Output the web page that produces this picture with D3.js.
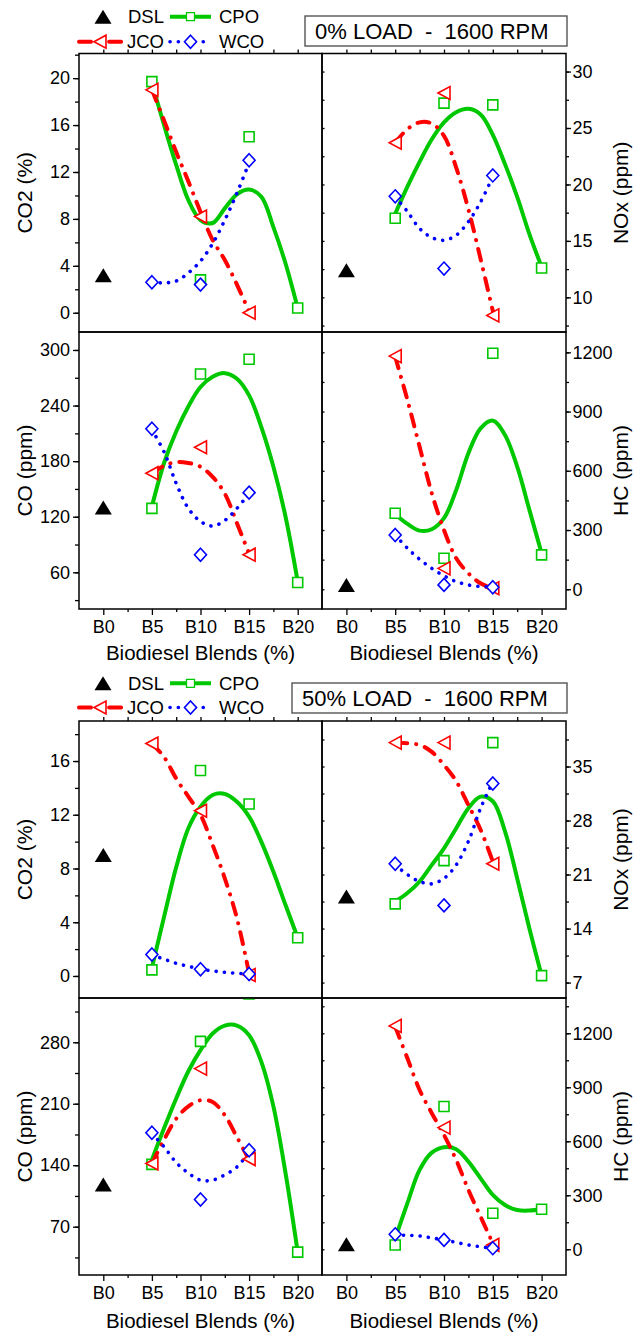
<!DOCTYPE html>
<html>
<head>
<meta charset="utf-8">
<script src="https://cdn.jsdelivr.net/npm/d3@7"></script>
<style>
  body { margin: 0; background: #fff; }
  svg { font-family: "Liberation Sans", Arial, sans-serif; }
</style>
</head>
<body>
<div id="chart"></div>
<script>
"use strict"

// x categories
const blends = [0, 5, 10, 15, 20];
const blendLabels = ["B0", "B5", "B10", "B15", "B20"];
const bioBlends = [5, 10, 15, 20];
const fitBlends = [5, 6.25, 7.5, 8.75, 10, 11.25, 12.5, 13.75, 15, 16.25, 17.5, 18.75, 20];

const titleLoad0 = "0% LOAD  -  1600 RPM";
const titleLoad50 = "50% LOAD  -  1600 RPM";

// ---- 0% load ----
const co2L0Ticks = [0, 4, 8, 12, 16, 20];
const co2L0Dsl = [3.2];
const co2L0Cpo = [19.7, 2.8, 15.0, 0.4];
const co2L0Jco = [19.0, 8.2, 0.0];
const co2L0Wco = [2.6, 2.4, 13.0];
const co2L0CpoFit = [19.6, 16.0, 12.6, 9.6, 7.9, 7.65, 8.9, 10.1, 10.5, 9.9, 7.3, 4.2, 0.4];
const co2L0JcoFit = [19.0, 16.4, 13.7, 11.2, 8.6, 6.2, 4.5, 2.4, 0.1];
const co2L0WcoFit = [2.6, 2.55, 2.7, 3.4, 4.4, 5.9, 7.9, 10.2, 12.8];

const noxL0Ticks = [10, 15, 20, 25, 30];
const noxL0Dsl = [12.4];
const noxL0Cpo = [17.0, 27.2, 27.05, 12.6];
const noxL0Jco = [23.7, 28.1, 8.4];
const noxL0Wco = [18.95, 12.55, 20.8];
const noxL0CpoFit = [17.4, 19.8, 22.0, 24.0, 25.5, 26.4, 26.7, 26.2, 24.4, 21.8, 18.9, 15.6, 12.7];
const noxL0JcoFit = [23.7, 24.9, 25.5, 25.4, 24.3, 21.5, 17.8, 13.4, 8.8];
const noxL0WcoFit = [18.9, 17.6, 16.1, 15.3, 15.05, 15.5, 16.7, 18.45, 20.7];

const coL0Ticks = [60, 120, 180, 240, 300];
const coL0Dsl = [130];
const coL0Cpo = [129, 274, 290, 49];
const coL0Jco = [167, 195, 79];
const coL0Wco = [215, 79, 146];
const coL0CpoFit = [131, 178, 212, 239, 260, 271, 275, 269, 251, 217, 174, 120, 50];
const coL0JcoFit = [167, 175, 179, 178, 174, 163, 145, 113, 80];
const coL0WcoFit = [214, 190, 156, 129, 115, 110, 116, 129, 145];

const hcL0Ticks = [0, 300, 600, 900, 1200];
const hcL0Dsl = [22];
const hcL0Cpo = [385, 157, 1195, 174];
const hcL0Jco = [1181, 106, 5];
const hcL0Wco = [275, 22, 10];
const hcL0CpoFit = [380, 331, 297, 304, 360, 503, 689, 815, 854, 781, 621, 402, 182];
const hcL0JcoFit = [1178, 959, 722, 486, 300, 157, 81, 30, 5];
const hcL0WcoFit = [275, 208, 152, 106, 68, 39, 22, 14, 10];

// ---- 50% load ----
const co2L50Ticks = [0, 4, 8, 12, 16];
const co2L50Dsl = [9.0];
const co2L50Cpo = [0.45, 15.3, 12.8, 2.85];
const co2L50Jco = [17.3, 12.3, 0.07];
const co2L50Wco = [1.6, 0.5, 0.15];
const co2L50CpoFit = [0.6, 4.4, 8.1, 11.0, 12.6, 13.47, 13.55, 12.97, 11.86, 10.0, 7.76, 5.28, 2.85];
const co2L50JcoFit = [17.3, 16.3, 14.7, 13.35, 12.0, 9.75, 7.27, 4.29, 0.2];
const co2L50WcoFit = [1.56, 1.25, 0.94, 0.72, 0.52, 0.38, 0.27, 0.2, 0.15];

const noxL50Ticks = [7, 14, 21, 28, 35];
const noxL50Dsl = [18.15];
const noxL50Cpo = [17.2, 22.8, 38.1, 7.9];
const noxL50Jco = [38.1, 38.1, 22.4];
const noxL50Wco = [22.4, 17.0, 32.8];
const noxL50CpoFit = [17.5, 18.6, 20.1, 22.25, 24.4, 27.0, 29.6, 31.1, 30.5, 26.6, 20.5, 14.0, 7.9];
const noxL50JcoFit = [38.1, 38.0, 37.8, 36.9, 35.2, 33.1, 30.0, 26.8, 22.7];
const noxL50WcoFit = [22.25, 21.0, 20.1, 19.8, 20.5, 22.25, 25.3, 29.6, 33.0];

const coL50Ticks = [70, 140, 210, 280];
const coL50Dsl = [118];
const coL50Cpo = [141, 281, 335, 41];
const coL50Jco = [142, 250, 147];
const coL50Wco = [177, 101, 157];
const coL50CpoFit = [146, 182, 216, 247, 271, 290, 299, 299, 288, 258, 207, 131, 41];
const coL50JcoFit = [142, 169, 193, 207, 214, 212, 197, 172, 146];
const coL50WcoFit = [176, 161, 143, 131, 123, 123, 129, 138, 155];

const hcL50Ticks = [0, 300, 600, 900, 1200];
const hcL50Dsl = [28];
const hcL50Cpo = [24, 793, 200, 222];
const hcL50Jco = [1241, 676, 24];
const hcL50Wco = [83, 52, 6];
const hcL50CpoFit = [61, 256, 441, 537, 567, 556, 487, 394, 302, 246, 218, 215, 222];
const hcL50JcoFit = [1237, 1061, 885, 756, 635, 496, 330, 181, 33];
const hcL50WcoFit = [80, 77, 74, 63, 52, 38, 24, 14, 6];

// ---- layout ----
const W = 634, H = 1333;
const colX = [[79, 322], [322, 566]];
const groups = [
  {rows: [[53.5, 332], [332, 609]], legendY: [16.7, 41.7], box: [305, 16, 567, 46], title: titleLoad0, xTitleY: 660},
  {rows: [[721, 998], [998, 1275]], legendY: [683.3, 707.5], box: [292, 683, 567, 713], title: titleLoad50, xTitleY: 1328}
];

const styles = {
  CPO: {color: "#00c800", width: 4, dash: null, cap: "butt", shape: "square"},
  JCO: {color: "#ff0000", width: 4, dash: "12 9 0.1 9", cap: "round", shape: "tri"},
  WCO: {color: "#0000ff", width: 3.6, dash: "0.1 8.2", cap: "round", shape: "diamond"}
};
const shapes = {
  square: "M-5,-5H5V5H-5Z",
  tri: "M-6,0L6,-6.5L6,6.5Z",
  diamond: "M0,-6.5L6,0L0,6.5L-6,0Z",
  dsl: "M0,-7L8.5,7H-8.5Z"
};

const panels = [
  {g: 0, col: 0, row: 0, dom: [-1.64, 22.1], ticks: co2L0Ticks, minor: 2, label: "CO2 (%)",
   dsl: co2L0Dsl, CPO: co2L0Cpo, JCO: co2L0Jco, WCO: co2L0Wco, CPOfit: co2L0CpoFit, JCOfit: co2L0JcoFit, WCOfit: co2L0WcoFit},
  {g: 0, col: 1, row: 0, dom: [6.93, 31.6], ticks: noxL0Ticks, minor: 2.5, label: "NOx (ppm)",
   dsl: noxL0Dsl, CPO: noxL0Cpo, JCO: noxL0Jco, WCO: noxL0Wco, CPOfit: noxL0CpoFit, JCOfit: noxL0JcoFit, WCOfit: noxL0WcoFit},
  {g: 0, col: 0, row: 1, dom: [20.4, 319.4], ticks: coL0Ticks, minor: 30, label: "CO (ppm)",
   dsl: coL0Dsl, CPO: coL0Cpo, JCO: coL0Jco, WCO: coL0Wco, CPOfit: coL0CpoFit, JCOfit: coL0JcoFit, WCOfit: coL0WcoFit},
  {g: 0, col: 1, row: 1, dom: [-100, 1303], ticks: hcL0Ticks, minor: 150, label: "HC (ppm)",
   dsl: hcL0Dsl, CPO: hcL0Cpo, JCO: hcL0Jco, WCO: hcL0Wco, CPOfit: hcL0CpoFit, JCOfit: hcL0JcoFit, WCOfit: hcL0WcoFit},
  {g: 1, col: 0, row: 0, dom: [-1.64, 18.98], ticks: co2L50Ticks, minor: 2, label: "CO2 (%)",
   dsl: co2L50Dsl, CPO: co2L50Cpo, JCO: co2L50Jco, WCO: co2L50Wco, CPOfit: co2L50CpoFit, JCOfit: co2L50JcoFit, WCOfit: co2L50WcoFit},
  {g: 1, col: 1, row: 0, dom: [5.0, 40.9], ticks: noxL50Ticks, minor: 3.5, label: "NOx (ppm)",
   dsl: noxL50Dsl, CPO: noxL50Cpo, JCO: noxL50Jco, WCO: noxL50Wco, CPOfit: noxL50CpoFit, JCOfit: noxL50JcoFit, WCOfit: noxL50WcoFit},
  {g: 1, col: 0, row: 1, dom: [15, 330.4], ticks: coL50Ticks, minor: 35, label: "CO (ppm)",
   dsl: coL50Dsl, CPO: coL50Cpo, JCO: coL50Jco, WCO: coL50Wco, CPOfit: coL50CpoFit, JCOfit: coL50JcoFit, WCOfit: coL50WcoFit},
  {g: 1, col: 1, row: 1, dom: [-143, 1396], ticks: hcL50Ticks, minor: 150, label: "HC (ppm)",
   dsl: hcL50Dsl, CPO: hcL50Cpo, JCO: hcL50Jco, WCO: hcL50Wco, CPOfit: hcL50CpoFit, JCOfit: hcL50JcoFit, WCOfit: hcL50WcoFit}
];

const svg = d3.select("#chart").append("svg")
    .attr("width", W)
    .attr("height", H);
const defs = svg.append("defs");
const plain = function(d) { return String(d); };

function pairs(xs, ys) {
  return ys.map(function(v, i) { return [xs[i], v]; });
}

function styleAxis(g) {
  g.select(".domain").remove();
  g.attr("font-family", null).attr("font-size", 18);
  g.selectAll("line").attr("stroke", "#000").attr("stroke-width", 1.3);
  g.selectAll("text").attr("fill", "#000");
}

function minorValues(dom, step) {
  var lo = Math.ceil(dom[0] / step) * step;
  return d3.range(lo, dom[1] + 1e-9, step);
}

function drawPanel(p, idx) {
  var grp = groups[p.g];
  var [x0, x1] = colX[p.col];
  var [y0, y1] = grp.rows[p.row];
  var x = d3.scaleLinear().domain([-2.5, 22.5]).range([x0, x1]);
  var y = d3.scaleLinear().domain(p.dom).range([y1, y0]);
  var layer = svg.append("g");

  // clip to the panel
  defs.append("clipPath").attr("id", "clip" + idx)
    .append("rect").attr("x", x0).attr("y", y0).attr("width", x1 - x0).attr("height", y1 - y0);
  var plot = layer.append("g").attr("clip-path", "url(#clip" + idx + ")");

  // fitted curves
  var line = d3.line()
      .x(function(d) { return x(d[0]); })
      .y(function(d) { return y(d[1]); })
      .curve(d3.curveCatmullRom.alpha(0.5));
  ["CPO", "JCO", "WCO"].forEach(function(k) {
    var s = styles[k];
    plot.append("path")
      .attr("d", line(pairs(fitBlends, p[k + "fit"])))
      .attr("fill", "none")
      .attr("stroke", s.color)
      .attr("stroke-width", s.width)
      .attr("stroke-linecap", s.cap)
      .attr("stroke-dasharray", s.dash);
  });

  // markers
  ["CPO", "JCO", "WCO"].forEach(function(k) {
    var s = styles[k];
    plot.selectAll(".m" + k).data(pairs(bioBlends, p[k]))
      .enter().append("path")
        .attr("class", "m" + k)
        .attr("d", shapes[s.shape])
        .attr("transform", function(d) { return "translate(" + x(d[0]) + "," + y(d[1]) + ")"; })
        .attr("fill", "#fff")
        .attr("stroke", s.color)
        .attr("stroke-width", 1.6);
  });
  plot.selectAll(".mDSL").data(pairs(blends, p.dsl))
    .enter().append("path")
      .attr("class", "mDSL")
      .attr("d", shapes.dsl)
      .attr("transform", function(d) { return "translate(" + x(d[0]) + "," + y(d[1]) + ")"; })
      .attr("fill", "#000");

  // y axis with labels
  var yMinor = minorValues(p.dom, p.minor);
  if (p.col == 0) {
    layer.append("g").attr("transform", "translate(" + x0 + ",0)")
      .call(d3.axisLeft(y).tickValues(yMinor).tickSize(4).tickFormat("")).call(styleAxis);
    layer.append("g").attr("transform", "translate(" + x0 + ",0)")
      .call(d3.axisLeft(y).tickValues(p.ticks).tickSize(6).tickPadding(3).tickFormat(plain)).call(styleAxis);
    layer.append("text")
      .attr("transform", "translate(25," + ((y0 + y1) / 2) + ") rotate(-90)")
      .attr("text-anchor", "middle").attr("dy", "0.35em")
      .attr("font-size", 21).text(p.label);
  } else {
    layer.append("g").attr("transform", "translate(" + x1 + ",0)")
      .call(d3.axisRight(y).tickValues(yMinor).tickSize(3).tickFormat("")).call(styleAxis);
    layer.append("g").attr("transform", "translate(" + x1 + ",0)")
      .call(d3.axisRight(y).tickValues(p.ticks).tickSize(5).tickPadding(1.5).tickFormat(plain)).call(styleAxis);
    // small inner ticks on the shared edge
    layer.append("g").attr("transform", "translate(" + x0 + ",0)")
      .call(d3.axisRight(y).tickValues(yMinor).tickSize(2.5).tickFormat("")).call(styleAxis);
    layer.append("text")
      .attr("transform", "translate(621," + ((y0 + y1) / 2) + ") rotate(-90)")
      .attr("text-anchor", "middle").attr("dy", "0.35em")
      .attr("font-size", 21).text(p.label);
  }

  // x axis
  var xMinor = [2.5, 7.5, 12.5, 17.5];
  if (p.row == 0) {
    layer.append("g").attr("transform", "translate(0," + y0 + ")")
      .call(d3.axisTop(x).tickValues(blends.concat(xMinor)).tickSize(4).tickFormat("")).call(styleAxis);
  } else {
    layer.append("g").attr("transform", "translate(0," + y1 + ")")
      .call(d3.axisBottom(x).tickValues(xMinor).tickSize(3).tickFormat("")).call(styleAxis);
    layer.append("g").attr("transform", "translate(0," + y1 + ")")
      .call(d3.axisBottom(x).tickValues(blends).tickSize(6).tickPadding(5)
        .tickFormat(function(d, i) { return blendLabels[i]; })).call(styleAxis);
    layer.append("text")
      .attr("x", (x0 + x1) / 2).attr("y", grp.xTitleY)
      .attr("text-anchor", "middle").attr("font-size", 20.5)
      .text("Biodiesel Blends (%)");
  }

  // frame
  layer.append("rect")
    .attr("x", x0).attr("y", y0).attr("width", x1 - x0).attr("height", y1 - y0)
    .attr("fill", "none").attr("stroke", "#000").attr("stroke-width", 1.5);
}

function drawLegend(grp) {
  var g = svg.append("g").attr("font-size", 18.5);
  var [r1, r2] = grp.legendY;
  function entry(k, xa, xb, xm, xt, yy) {
    var s = styles[k];
    g.append("line").attr("x1", xa).attr("x2", xb).attr("y1", yy).attr("y2", yy)
      .attr("stroke", s.color).attr("stroke-width", s.width)
      .attr("stroke-linecap", s.cap).attr("stroke-dasharray", s.dash);
    g.append("path").attr("d", shapes[s.shape])
      .attr("transform", "translate(" + xm + "," + yy + ")" + (s.shape == "square" ? " scale(0.8)" : ""))
      .attr("fill", "#fff").attr("stroke", s.color).attr("stroke-width", 1.6);
    g.append("text").attr("x", xt).attr("y", yy + 6.5).text(k);
  }
  g.append("path").attr("d", shapes.dsl)
    .attr("transform", "translate(103," + r1 + ")").attr("fill", "#000");
  g.append("text").attr("x", 128).attr("y", r1 + 6.5).text("DSL");
  entry("CPO", 170, 211, 190.5, 219, r1);
  entry("JCO", 79, 124, 100, 127, r2);
  entry("WCO", 170, 211, 190.5, 219, r2);

  // condition box
  var [bx0, by0, bx1, by1] = grp.box;
  svg.append("rect")
    .attr("x", bx0).attr("y", by0).attr("width", bx1 - bx0).attr("height", by1 - by0)
    .attr("fill", "#fff").attr("stroke", "#555").attr("stroke-width", 1.4);
  svg.append("text")
    .attr("x", bx0 + 10).attr("y", by1 - 7)
    .attr("font-size", 22)
    .style("white-space", "pre")
    .text(grp.title);
}

panels.forEach(drawPanel);
groups.forEach(drawLegend);
</script>
</body>
</html>
